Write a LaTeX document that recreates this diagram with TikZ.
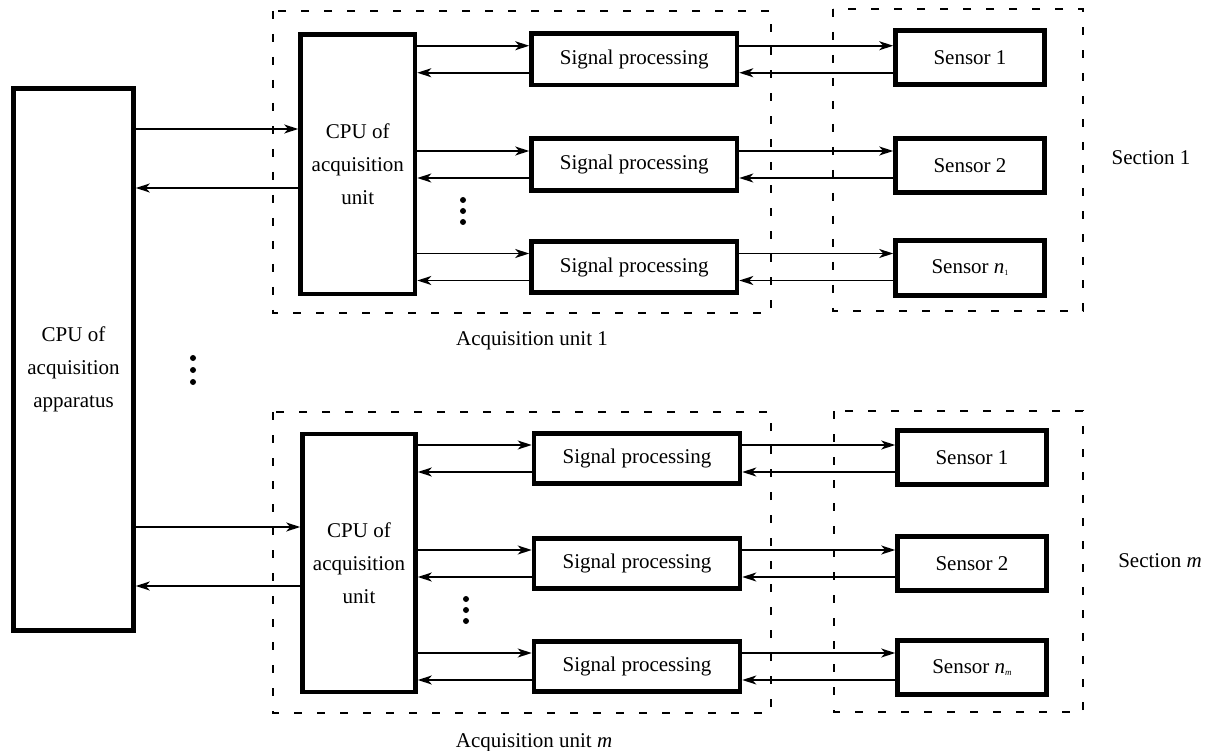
\documentclass[tikz,border=0pt]{standalone}
\usepackage{fontspec}
\setmainfont{Liberation Serif}
\usetikzlibrary{arrows.meta}
\begin{document}
\begin{tikzpicture}[x=1pt,y=-1pt,
  blk/.style={draw, line width=4.6pt, inner sep=0pt,
    font=\fontsize{21}{33}\selectfont, align=center},
  frame/.style={draw, line width=1.8pt, dash pattern=on 8pt off 15pt},
  arr/.style={line width=1.8pt, -{Stealth[length=14pt,width=9pt,inset=4pt]}},
  lbl/.style={font=\fontsize{21}{25}\selectfont, inner sep=0pt, anchor=base},
  dot/.style={circle, fill, inner sep=0pt, minimum size=6pt}]
\useasboundingbox (0,0) rectangle (1210,751);

% dashed frames: acquisition units and sensor sections
\draw[frame] (273,11) rectangle (771,313);
\draw[frame] (833,9) rectangle (1083,311);
\draw[frame] (273,412) rectangle (771,713);
\draw[frame] (834,411) rectangle (1083,712);

% central apparatus
\node[blk, minimum width=120pt, minimum height=542pt] (app) at (73.5,359.5) {};
\node[font=\fontsize{21}{33}\selectfont, align=center, inner sep=0pt] (apptext) at (73.5,369)
  {CPU of\\acquisition\\apparatus};

% acquisition unit 1
\node[blk, minimum width=114.5pt, minimum height=259.5pt] (cpu1) at (357.75,164.25)
  {CPU of\\acquisition\\unit};
\foreach \k/\y in {1/59.25,2/164.5,3/267}
  \node[blk, minimum width=205.5pt, minimum height=51.5pt] (sp1\k) at (634.25,\y) {Signal processing};
\node[blk, minimum width=149pt, minimum height=54.5pt] (sen11) at (970,57.5) {Sensor 1};
\node[blk, minimum width=149pt, minimum height=54.5pt] (sen12) at (970,165.5) {Sensor 2};
\node[blk, minimum width=149pt, minimum height=54.5pt] (sen13) at (970,268)
  {Sensor \textit{n}\raisebox{-2pt}{\fontsize{8}{8}\selectfont 1}};

% acquisition unit m
\node[blk, minimum width=113pt, minimum height=258pt] (cpum) at (359,563)
  {CPU of\\acquisition\\unit};
\foreach \k/\y in {1/458.5,2/563.5,3/666.5}
  \node[blk, minimum width=206pt, minimum height=50.5pt] (spm\k) at (637,\y) {Signal processing};
\node[blk, minimum width=149pt, minimum height=54.5pt] (senm1) at (972,457.5) {Sensor 1};
\node[blk, minimum width=149pt, minimum height=54.5pt] (senm2) at (972,563.5) {Sensor 2};
\node[blk, minimum width=149pt, minimum height=54.5pt] (senm3) at (972,667.5)
  {Sensor \textit{n}\raisebox{-2pt}{\fontsize{9}{9}\selectfont\textit{m}}};

% links between apparatus and unit CPUs
\coordinate (a1) at (0,129);
\coordinate (b1) at (0,188);
\coordinate (am) at (0,527);
\coordinate (bm) at (0,586);
\draw[arr] (app.east |- a1) -- (cpu1.west |- a1);
\draw[arr] (cpu1.west |- b1) -- (app.east |- b1);
\draw[arr] (app.east |- am) -- (cpum.west |- am);
\draw[arr] (cpum.west |- bm) -- (app.east |- bm);

% links CPU -> signal processing -> sensor, and back
\foreach \u in {1,m}{
  \foreach \k in {1,2,3}{
    \coordinate (f) at ([yshift=13.5pt]sp\u\k.west);
    \coordinate (b) at ([yshift=-13.5pt]sp\u\k.west);
    \draw[arr] (cpu\u.east |- f) -- (f);
    \draw[arr] (b) -- (cpu\u.east |- b);
    \draw[arr] (sp\u\k.east |- f) -- (sen\u\k.west |- f);
    \draw[arr] (sen\u\k.west |- b) -- (sp\u\k.east |- b);
  }
}

% ellipses
\node[dot] (d1) at (193,358) {};
\node[dot] (d2) at (193,370) {};
\node[dot] (d3) at (193,382) {};
\node[dot] (u1a) at (463,200) {};
\node[dot] (u1b) at (463,211) {};
\node[dot] (u1c) at (463,222) {};
\node[dot] (uma) at (466,599) {};
\node[dot] (umb) at (466,610) {};
\node[dot] (umc) at (466,621) {};

% captions
\node[lbl] (cap1) at (532,345) {Acquisition unit 1};
\node[lbl] (capm) at (534,747) {Acquisition unit \textit{m}};
\node[lbl] (sec1) at (1151,165) {Section 1};
\node[lbl] (secm) at (1160,567) {Section \textit{m}};
\end{tikzpicture}
\end{document}
